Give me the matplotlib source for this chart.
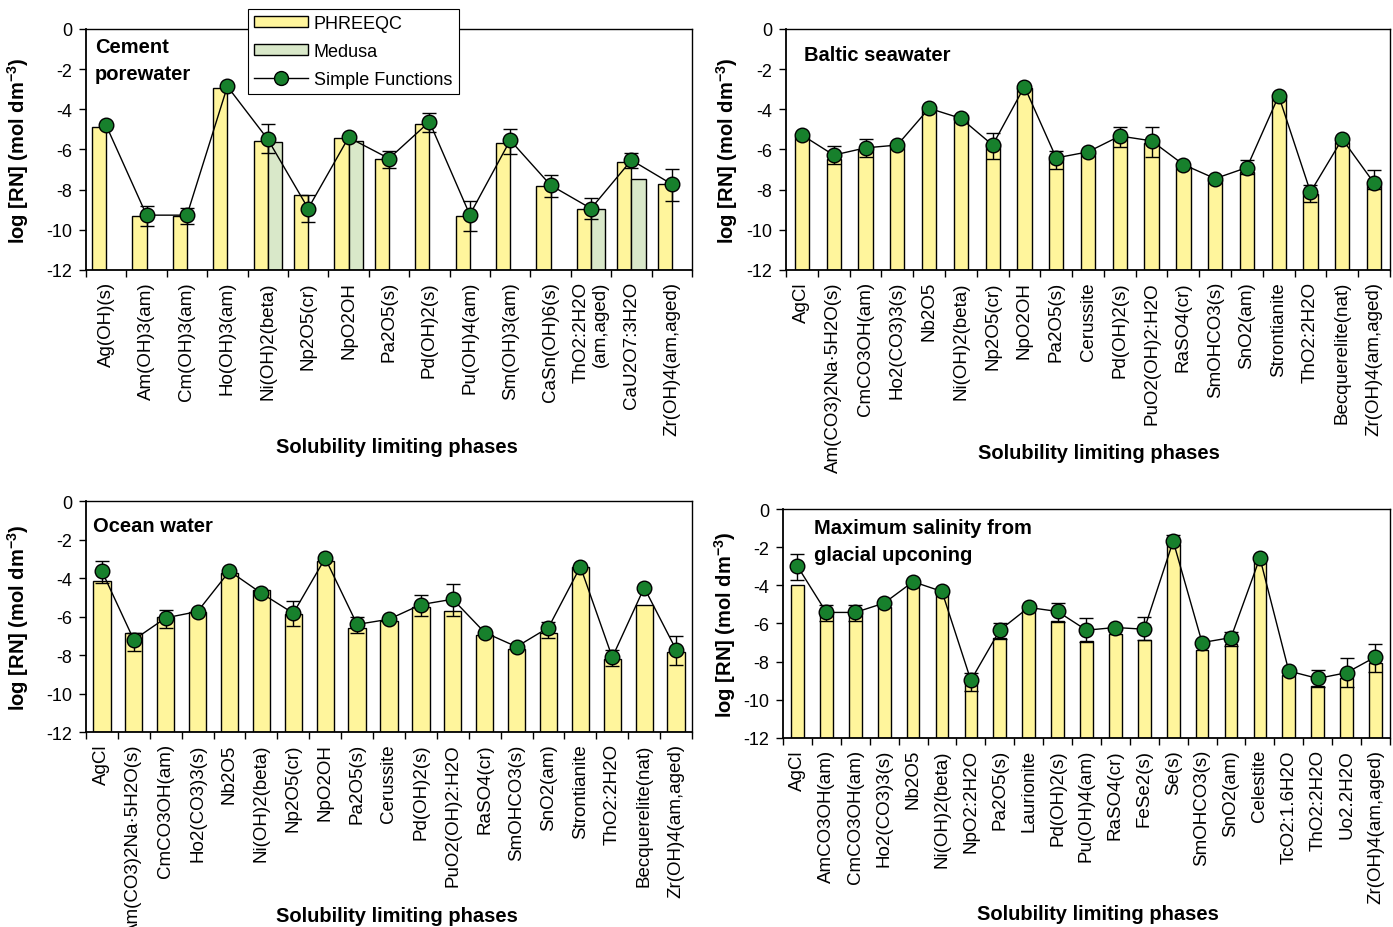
import numpy as np
import matplotlib
matplotlib.use('Agg')
import matplotlib.pyplot as plt
from matplotlib.patches import Patch
from matplotlib.lines import Line2D

plt.rcParams['font.family'] = ['Liberation Sans', 'DejaVu Sans']
plt.rcParams['axes.unicode_minus'] = False
plt.rcParams['mathtext.fontset'] = 'custom'
plt.rcParams['mathtext.bf'] = 'Liberation Sans:bold'
plt.rcParams['mathtext.rm'] = 'Liberation Sans'

nan = np.nan

# --- Cement porewater ---
cement_phases = ['Ag(OH)(s)', 'Am(OH)3(am)', 'Cm(OH)3(am)', 'Ho(OH)3(am)', 'Ni(OH)2(beta)',
                 'Np2O5(cr)', 'NpO2OH', 'Pa2O5(s)', 'Pd(OH)2(s)', 'Pu(OH)4(am)', 'Sm(OH)3(am)',
                 'CaSn(OH)6(s)', 'ThO2:2H2O\n(am,aged)', 'CaU2O7:3H2O', 'Zr(OH)4(am,aged)']
cement_phreeqc = [-4.9, -9.3, -9.3, -2.95, -5.6, -8.25, -5.45, -6.48, -4.74, -9.3, -5.7, -7.8, -8.94, -6.63, -7.73]
cement_medusa = [nan, nan, nan, nan, -5.65, nan, -5.57, nan, nan, nan, nan, nan, -8.94, -7.48, nan]
cement_sf = [-4.8, -9.27, -9.27, -2.86, -5.49, -8.94, -5.40, -6.45, -4.62, -9.25, -5.54, -7.78, -8.94, -6.53, -7.73]
cement_lo = [nan, -9.8, -9.72, nan, -6.2, -9.59, nan, -6.9, -5.15, -10.08, -6.23, -8.39, -9.44, -6.9, -8.56]
cement_hi = [nan, -8.8, -8.89, nan, -4.74, -8.29, nan, -6.07, -4.16, -8.59, -5.0, -7.26, -8.44, -6.2, -6.96]

# --- Baltic seawater ---
baltic_phases = ['AgCl', 'Am(CO3)2Na·5H2O(s)', 'CmCO3OH(am)', 'Ho2(CO3)3(s)', 'Nb2O5', 'Ni(OH)2(beta)',
                 'Np2O5(cr)', 'NpO2OH', 'Pa2O5(s)', 'Cerussite', 'Pd(OH)2(s)', 'PuO2(OH)2:H2O',
                 'RaSO4(cr)', 'SmOHCO3(s)', 'SnO2(am)', 'Strontianite', 'ThO2:2H2O',
                 'Becquerelite(nat)', 'Zr(OH)4(am,aged)']
baltic_phreeqc = [-5.37, -6.45, -6.03, -5.87, -4.03, -4.28, -5.73, -2.95, -6.53, -6.2, -5.45, -5.7,
                  -6.87, -7.53, -7.12, -3.45, -8.2, -5.62, -7.78]
baltic_sf = [-5.28, -6.28, -5.92, -5.78, -3.95, -4.45, -5.78, -2.87, -6.42, -6.12, -5.33, -5.57,
             -6.75, -7.45, -6.9, -3.33, -8.12, -5.48, -7.67]
baltic_lo = [nan, -6.73, -6.37, nan, nan, nan, -6.45, nan, -6.95, nan, -5.87, -6.37,
             nan, nan, -7.23, nan, -8.62, nan, -7.95]
baltic_hi = [nan, -5.83, -5.47, nan, nan, nan, -5.2, nan, -6.07, nan, -4.9, -4.9,
             nan, nan, -6.53, nan, -7.78, nan, -7.03]

# --- Ocean water ---
ocean_phases = baltic_phases
ocean_phreeqc = [-4.16, -6.86, -6.0, -5.79, -3.76, -4.64, -5.88, -3.09, -6.6, -6.22, -5.53, -5.71,
                 -6.97, -7.69, -6.86, -3.43, -8.21, -5.41, -7.83]
ocean_sf = [-3.64, -7.21, -6.07, -5.74, -3.64, -4.79, -5.83, -2.97, -6.41, -6.14, -5.38, -5.1,
            -6.83, -7.57, -6.57, -3.41, -8.12, -4.5, -7.72]
ocean_lo = [-4.24, -7.78, -6.6, nan, nan, nan, -6.47, nan, -6.88, nan, -5.97, -5.97,
            nan, nan, -7.09, nan, -8.59, nan, -8.52]
ocean_hi = [-3.09, -6.83, -5.66, nan, nan, nan, -5.21, nan, -6.0, nan, -4.9, -4.33,
            nan, nan, -6.28, nan, -7.74, nan, -7.03]

# --- Maximum salinity from glacial upconing ---
salin_phases = ['AgCl', 'AmCO3OH(am)', 'CmCO3OH(am)', 'Ho2(CO3)3(s)', 'Nb2O5', 'Ni(OH)2(beta)',
                'NpO2:2H2O', 'Pa2O5(s)', 'Laurionite', 'Pd(OH)2(s)', 'Pu(OH)4(am)', 'RaSO4(cr)',
                'FeSe2(s)', 'Se(s)', 'SmOHCO3(s)', 'SnO2(am)', 'Celestite', 'TcO2:1.6H2O',
                'ThO2:2H2O', 'Uo2.2H2O', 'Zr(OH)4(am,aged)']
salin_phreeqc = [-3.98, -5.47, -5.47, -5.16, -4.1, -4.42, -9.1, -6.74, -5.3, -5.86, -6.91, -6.53,
                 -6.88, -1.82, -7.4, -7.09, -2.79, -8.7, -9.28, -8.84, -8.05]
salin_sf = [-3.0, -5.42, -5.42, -4.93, -3.81, -4.32, -8.98, -6.35, -5.16, -5.37, -6.35, -6.21,
            -6.3, -1.68, -7.0, -6.74, -2.56, -8.49, -8.88, -8.58, -7.75]
salin_lo = [-3.72, -5.89, -5.89, nan, nan, nan, -9.54, -6.82, nan, -5.91, -6.96, nan,
            -6.88, -1.8, nan, -7.18, nan, nan, -9.33, -9.33, -8.53]
salin_hi = [-2.35, -5.04, -5.04, nan, nan, nan, -8.58, -5.95, nan, -4.93, -5.72, nan,
            -5.68, -1.35, nan, -6.42, nan, nan, -8.46, -7.79, -7.05]

YELLOW = '#FFF59C'
GREEN_BAR = '#D9E8C9'
MARKER = '#17802C'
BASE = -12


def panel(ax, phases, phreeqc, sf, lo, hi, medusa=None, width=0.45,
          title='', title_xy=(0.03, 0.93)):
    n = len(phases)
    x = np.arange(n)
    ph = np.array(phreeqc)
    if medusa is not None:
        md = np.array(medusa)
        ax.bar(x - width / 2, ph - BASE, width, bottom=BASE, color=YELLOW, edgecolor='black', lw=1, zorder=2)
        ax.bar(x + width / 2, md - BASE, width, bottom=BASE, color=GREEN_BAR, edgecolor='black', lw=1, zorder=2)
    else:
        ax.bar(x, ph - BASE, width, bottom=BASE, color=YELLOW, edgecolor='black', lw=1, zorder=2)
    sf = np.array(sf)
    lo = np.array(lo)
    hi = np.array(hi)
    m = ~np.isnan(lo)
    ax.errorbar(x[m], sf[m], yerr=[sf[m] - lo[m], hi[m] - sf[m]], fmt='none',
                ecolor='black', elinewidth=1, capsize=5, capthick=1, zorder=3)
    ax.plot(x, sf, '-', color='black', lw=1, zorder=4)
    ax.plot(x, sf, 'o', ms=10.5, mfc=MARKER, mec='black', mew=1, zorder=5)

    ax.set_xlim(-0.5, n - 0.5)
    ax.set_ylim(-12, 0)
    ax.set_yticks(range(-12, 1, 2))
    ax.set_yticklabels([str(v) for v in range(-12, 1, 2)], fontsize=13)
    ax.set_xticks(x)
    ax.set_xticklabels(phases, rotation=90, fontsize=13.5)
    for lab in ax.get_xticklabels():
        lab.set_multialignment('right')
    ax.set_xticks(np.arange(n + 1) - 0.5, minor=True)
    ax.tick_params(axis='x', which='major', length=0, pad=8)
    ax.tick_params(axis='x', which='minor', length=5, direction='out', width=1)
    ax.tick_params(axis='y', length=5, direction='out', width=1, pad=5)
    for s in ax.spines.values():
        s.set_color('black')
        s.set_linewidth(1)
    ax.spines['left'].set_linewidth(1.3)
    ax.spines['bottom'].set_linewidth(1.3)
    ax.set_xlabel('Solubility limiting phases', fontsize=14.5, fontweight='bold')
    ax.set_ylabel(r'log [RN] (mol dm$\mathbf{^{-3}}$)', fontsize=14.5, fontweight='bold')
    ax.text(title_xy[0], title_xy[1], title, transform=ax.transAxes, fontsize=14.5,
            fontweight='bold', va='top', ha='left', linespacing=1.5, zorder=6)


fig = plt.figure(figsize=(13.93, 9.28), dpi=100)
ax1 = fig.add_axes([0.0617, 0.708, 0.4351, 0.2597])
ax2 = fig.add_axes([0.5643, 0.708, 0.4335, 0.2597])
ax3 = fig.add_axes([0.0617, 0.2101, 0.4351, 0.2489])
ax4 = fig.add_axes([0.5621, 0.2037, 0.4357, 0.2467])

panel(ax1, cement_phases, cement_phreeqc, cement_sf, cement_lo, cement_hi,
      medusa=cement_medusa, width=0.35, title='Cement\nporewater', title_xy=(0.015, 0.965))
panel(ax2, baltic_phases, baltic_phreeqc, baltic_sf, baltic_lo, baltic_hi,
      width=0.45, title='Baltic seawater', title_xy=(0.03, 0.935))
panel(ax3, ocean_phases, ocean_phreeqc, ocean_sf, ocean_lo, ocean_hi,
      width=0.54, title='Ocean water', title_xy=(0.012, 0.935))
panel(ax4, salin_phases, salin_phreeqc, salin_sf, salin_lo, salin_hi,
      width=0.44, title='Maximum salinity from\nglacial upconing', title_xy=(0.051, 0.96))

ax1.xaxis.set_label_coords(0.513, -0.693)
ax2.xaxis.set_label_coords(0.518, -0.718)
ax3.xaxis.set_label_coords(0.513, -0.753)
ax4.xaxis.set_label_coords(0.519, -0.725)
ax1.yaxis.set_label_coords(-0.091, 0.5)
ax2.yaxis.set_label_coords(-0.076, 0.5)
ax3.yaxis.set_label_coords(-0.091, 0.5)
ax4.yaxis.set_label_coords(-0.074, 0.5)

handles = [Patch(facecolor=YELLOW, edgecolor='black', lw=1),
           Patch(facecolor=GREEN_BAR, edgecolor='black', lw=1),
           Line2D([], [], color='black', lw=1, marker='o', ms=10, mfc=MARKER, mec='black')]
leg = fig.legend(handles, ['PHREEQC', 'Medusa', 'Simple Functions'], loc='upper left',
                 bbox_to_anchor=(248 / 1393, 1 - 10 / 928), fontsize=13, fancybox=False,
                 framealpha=1, edgecolor='black', borderaxespad=0, labelspacing=0.6,
                 handlelength=3.0, handleheight=0.55, handletextpad=0.3, borderpad=0.35)
leg.get_frame().set_linewidth(0.8)

fig.savefig('out.png', dpi=100)
